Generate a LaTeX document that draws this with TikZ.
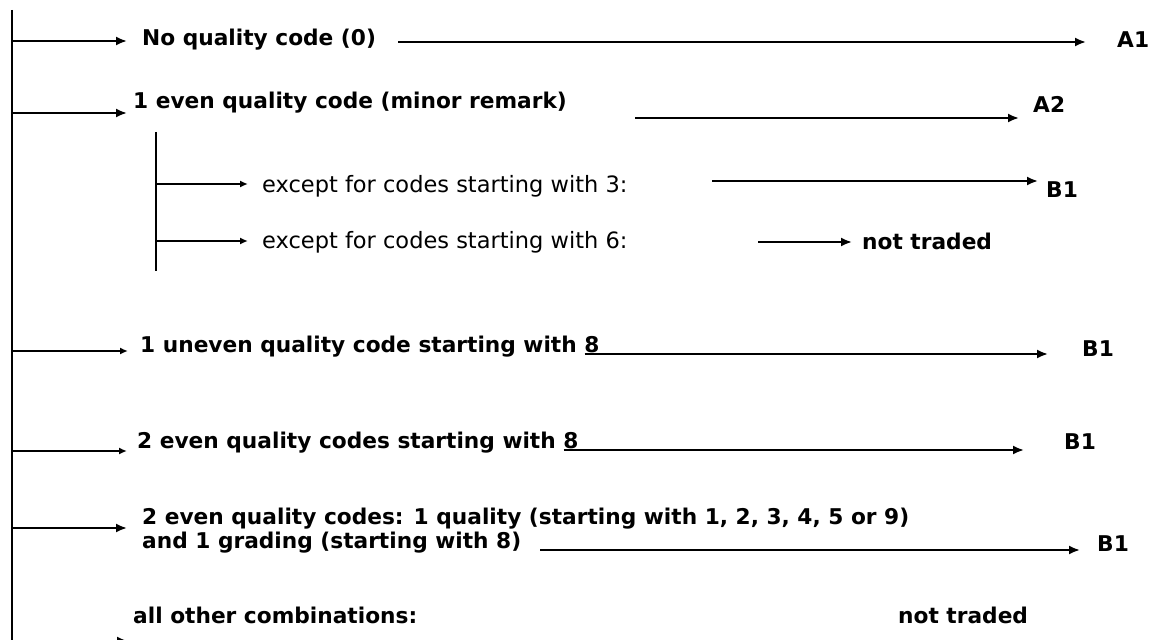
\documentclass[tikz,border=0pt]{standalone}
\usepackage{fontspec}
\setmainfont{DejaVu Sans}
\usetikzlibrary{arrows.meta, calc}

\tikzset{
  rail/.style={line width=2pt},
  flow/.style={line width=2pt, -{Latex[length=11pt,width=9pt]}},
  flowsmall/.style={line width=2pt, -{Latex[length=8pt,width=7pt]}},
  case/.style={anchor=base west, inner sep=0pt, font=\fontsize{21.7}{24}\selectfont\bfseries},
  subcase/.style={anchor=base west, inner sep=0pt, font=\fontsize{22.5}{27}\selectfont},
  grade/.style={anchor=base west, inner sep=0pt, font=\fontsize{21.7}{26}\selectfont\bfseries}
}

\begin{document}
\begin{tikzpicture}[x=1pt, y=-1pt]
                \useasboundingbox (0,0) rectangle (1155,639);

                \coordinate (top) at (12,10);
                \coordinate (bot) at (12,650);
                \coordinate (subtop) at (156,132);
                \coordinate (subbot) at (156,271);
                \draw[rail] (top) -- (bot);
                \draw[rail] (subtop) -- (subbot);

                \node[case] (none) at (142,46) {No quality code (0)};
                \node[grade] (a1) at (1117,48) {A1};
                \node[case] (minor) at (133,109) {1 even quality code (minor remark)};
                \node[grade] (a2) at (1033,113) {A2};
                \node[subcase] (exc3) at (262,193) {except for codes starting with 3:};
                \node[grade] (b1a) at (1046,197) {B1};
                \node[subcase] (exc6) at (262,248) {except for codes starting with 6:};
                \node[grade] (nt1) at (862,249) {not traded};
                \node[case] (uneven) at (140,352) {1 uneven quality code starting with 8};
                \node[grade] (b1b) at (1082,356) {B1};
                \node[case] (twoeven) at (137,448) {2 even quality codes starting with 8};
                \node[grade] (b1c) at (1064,449) {B1};
                \node[case, align=left] (mixed) at (142,548) {2 even quality codes: 1 quality (starting with 1, 2, 3, 4, 5 or 9)\\and 1 grading (starting with 8)};
                \node[grade] (b1d) at (1097,551) {B1};
                \node[case] (other) at (133,623) {all other combinations:};
                \node[grade] (nt2) at (898,623) {not traded};

                % arrows off the main line
                \draw[flow] ([yshift=5pt]none.base west -| top) -- ([xshift=-15pt,yshift=5pt]none.base west);
                \draw[flow] ([yshift=-4pt]minor.base west -| top) -- ([xshift=-6pt,yshift=-4pt]minor.base west);
                \draw[flowsmall] ([yshift=1pt]uneven.base west -| top) -- ([xshift=-12pt,yshift=1pt]uneven.base west);
                \draw[flowsmall] ([yshift=-3pt]twoeven.base west -| top) -- ([xshift=-10pt,yshift=-3pt]twoeven.base west);
                \draw[flow] ([yshift=20pt]mixed.base west -| top) -- ([xshift=-15pt,yshift=20pt]mixed.base west);
                \draw[flow] ([yshift=-18pt]other.base west -| top) -- ([xshift=-5pt,yshift=-18pt]other.base west);
                \draw[flowsmall] ([yshift=9pt]exc3.base west -| subtop) -- ([xshift=-14pt,yshift=9pt]exc3.base west);
                \draw[flowsmall] ([yshift=7pt]exc6.base west -| subtop) -- ([xshift=-14pt,yshift=7pt]exc6.base west);

                % arrows to the grades
                \coordinate (l1) at (398,42);
                \coordinate (l2) at (635,118);
                \coordinate (l3) at (712,181);
                \coordinate (l4) at (758,242);
                \coordinate (l6) at (540,550);
                \draw[flow] (l1) -- ([xshift=-31pt]l1 -| a1.west);
                \draw[flow] (l2) -- ([xshift=-14pt]l2 -| a2.west);
                \draw[flow] (l3) -- ([xshift=-8pt]l3 -| b1a.west);
                \draw[flow] (l4) -- ([xshift=-10pt]l4 -| nt1.west);
                \draw[flow] ([xshift=-15pt,yshift=-2pt]uneven.base east) -- ([xshift=-34pt,yshift=-2pt]uneven.base east -| b1b.west);
                \draw[flow] ([xshift=-15pt,yshift=-2pt]twoeven.base east) -- ([xshift=-40pt,yshift=-2pt]twoeven.base east -| b1c.west);
                \draw[flow] (l6) -- ([xshift=-17pt]l6 -| b1d.west);
            \end{tikzpicture}
\end{document}
